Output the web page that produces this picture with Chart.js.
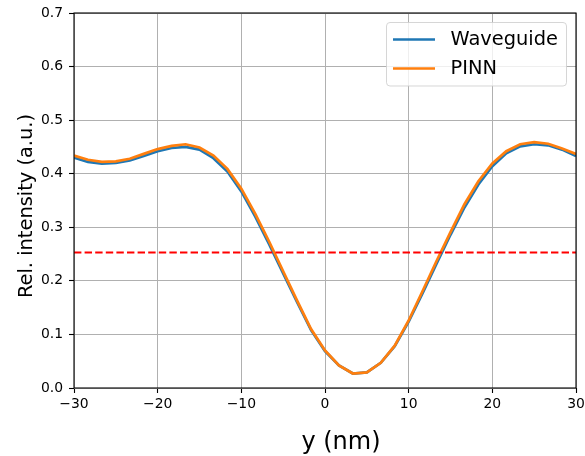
<!DOCTYPE html>
<html>
<head>
<meta charset="utf-8">
<script src="https://cdn.jsdelivr.net/npm/chart.js@4.4.1/dist/chart.umd.min.js"></script>
<style>
  html, body { margin: 0; padding: 0; background: #ffffff; }
  #wrap { width: 585px; height: 456px; }
</style>
</head>
<body>
<div id="wrap"><canvas id="c" width="585" height="456"></canvas></div>
<script>
// ---- data ----
const yPositions = [
  -30, -28.333, -26.667, -25, -23.333, -21.667, -20, -18.333, -16.667, -15,
  -13.333, -11.667, -10, -8.333, -6.667, -5, -3.333, -1.667, 0, 1.667,
  3.333, 5, 6.667, 8.333, 10, 11.667, 13.333, 15, 16.667, 18.333,
  20, 21.667, 23.333, 25, 26.667, 28.333, 30
];
const waveguide = [
  0.430, 0.422, 0.419, 0.420, 0.425, 0.433, 0.442, 0.448, 0.450, 0.445,
  0.429, 0.404, 0.367, 0.320, 0.268, 0.214, 0.160, 0.108, 0.069, 0.042,
  0.027, 0.029, 0.047, 0.078, 0.124, 0.177, 0.232, 0.286, 0.337, 0.380,
  0.414, 0.438, 0.451, 0.455, 0.453, 0.445, 0.433
];
const pinn = [
  0.434, 0.426, 0.422, 0.423, 0.428, 0.437, 0.446, 0.452, 0.455, 0.449,
  0.434, 0.409, 0.372, 0.325, 0.273, 0.218, 0.163, 0.110, 0.070, 0.042,
  0.027, 0.029, 0.047, 0.079, 0.126, 0.181, 0.237, 0.291, 0.343, 0.386,
  0.419, 0.442, 0.455, 0.459, 0.456, 0.447, 0.437
];
const thresholdLevel = 0.253;
const thresholdSpan = [-30, 30];

const seriesLabels = ['Waveguide', 'PINN'];
const xTickValues = [-30, -20, -10, 0, 10, 20, 30];
const xTickLabels = ['\u221230', '\u221220', '\u221210', '0', '10', '20', '30'];
const yTickLabels = ['0.0', '0.1', '0.2', '0.3', '0.4', '0.5', '0.6', '0.7'];
const xAxisTitle = 'y (nm)';
const yAxisTitle = 'Rel. intensity (a.u.)';

// ---- build chart ----
const FONT = "'DejaVu Sans', 'Liberation Sans', sans-serif";
const toPts = (xs, ys) => xs.map((x, i) => ({ x: x, y: ys[i] }));

const framePlugin = {
  id: 'frameAndLegend',
  afterDraw(chart) {
    const ctx = chart.ctx;
    const a = chart.chartArea;
    ctx.save();
    // spines
    ctx.strokeStyle = '#000000';
    ctx.lineWidth = 1.1;
    ctx.strokeRect(a.left, a.top, a.right - a.left, a.bottom - a.top);

    // axis titles
    ctx.fillStyle = '#000000';
    ctx.font = '24px ' + FONT;
    ctx.textAlign = 'center';
    ctx.textBaseline = 'alphabetic';
    ctx.fillText(xAxisTitle, 341, 448.5);

    ctx.save();
    ctx.translate(31.5, 206);
    ctx.rotate(-Math.PI / 2);
    ctx.font = '19.4px ' + FONT;
    ctx.textAlign = 'center';
    ctx.textBaseline = 'alphabetic';
    ctx.fillText(yAxisTitle, 0, 0);
    ctx.restore();

    // legend
    const items = chart.data.datasets.filter(d => d.inLegend);
    const bx = 386.5, by = 22.5, bw = 180, bh = 63.5, r = 3.5;
    ctx.beginPath();
    ctx.moveTo(bx + r, by);
    ctx.lineTo(bx + bw - r, by);
    ctx.arcTo(bx + bw, by, bx + bw, by + r, r);
    ctx.lineTo(bx + bw, by + bh - r);
    ctx.arcTo(bx + bw, by + bh, bx + bw - r, by + bh, r);
    ctx.lineTo(bx + r, by + bh);
    ctx.arcTo(bx, by + bh, bx, by + bh - r, r);
    ctx.lineTo(bx, by + r);
    ctx.arcTo(bx, by, bx + r, by, r);
    ctx.closePath();
    ctx.fillStyle = 'rgba(255,255,255,0.8)';
    ctx.fill();
    ctx.strokeStyle = 'rgba(204,204,204,0.8)';
    ctx.lineWidth = 1;
    ctx.stroke();

    ctx.font = '19.4px ' + FONT;
    ctx.textAlign = 'left';
    ctx.textBaseline = 'middle';
    items.forEach((d, i) => {
      const yy = 39.5 + i * 29;
      ctx.strokeStyle = d.borderColor;
      ctx.lineWidth = 2.7;
      ctx.beginPath();
      ctx.moveTo(393, yy);
      ctx.lineTo(435, yy);
      ctx.stroke();
      ctx.fillStyle = '#000000';
      ctx.fillText(d.label, 450.5, yy + 0.5);
    });
    ctx.restore();
  }
};

new Chart(document.getElementById('c'), {
  type: 'scatter',
  data: {
    datasets: [
      {
        label: seriesLabels[0],
        inLegend: true,
        data: toPts(yPositions, waveguide),
        showLine: true,
        borderColor: '#1f77b4',
        backgroundColor: '#1f77b4',
        borderWidth: 2.7,
        pointRadius: 0,
        tension: 0,
        order: 2
      },
      {
        label: seriesLabels[1],
        inLegend: true,
        data: toPts(yPositions, pinn),
        showLine: true,
        borderColor: '#ff7f0e',
        backgroundColor: '#ff7f0e',
        borderWidth: 2.7,
        pointRadius: 0,
        tension: 0,
        order: 1
      },
      {
        label: 'threshold',
        inLegend: false,
        data: thresholdSpan.map(x => ({ x: x, y: thresholdLevel })),
        showLine: true,
        borderColor: '#ff0000',
        backgroundColor: '#ff0000',
        borderWidth: 2,
        borderDash: [7.4, 3.2],
        pointRadius: 0,
        order: 0
      }
    ]
  },
  options: {
    responsive: false,
    animation: false,
    devicePixelRatio: 1,
    layout: { padding: { top: 13, right: 9, left: 0, bottom: 0 } },
    plugins: {
      legend: { display: false },
      tooltip: { enabled: false },
      title: { display: false }
    },
    scales: {
      x: {
        type: 'linear',
        min: -30,
        max: 30,
        afterFit(scale) {
          scale.height = 68;
          scale.paddingLeft = 0;
          scale.paddingRight = 0;
        },
        afterBuildTicks(scale) { scale.ticks = xTickValues.map(v => ({ value: v })); },
        ticks: {
          autoSkip: false,
          maxRotation: 0,
          padding: 3,
          color: '#000000',
          font: { family: FONT, size: 13.9 },
          callback: (v) => {
            const k = xTickValues.indexOf(v);
            return k >= 0 ? xTickLabels[k] : '';
          }
        },
        grid: {
          color: '#b0b0b0',
          lineWidth: 1,
          drawTicks: true,
          tickLength: 5,
          tickColor: '#000000',
          tickWidth: 1.1
        },
        border: { display: false }
      },
      y: {
        type: 'linear',
        min: 0,
        max: 0.7,
        afterFit(scale) {
          scale.width = 74;
          scale.paddingTop = 0;
          scale.paddingBottom = 0;
        },
        afterBuildTicks(scale) { scale.ticks = yTickLabels.map((t, i) => ({ value: i / 10 })); },
        ticks: {
          autoSkip: false,
          padding: 6,
          color: '#000000',
          font: { family: FONT, size: 13.9 },
          callback: (v, i) => yTickLabels[i]
        },
        grid: {
          color: '#b0b0b0',
          lineWidth: 1,
          drawTicks: true,
          tickLength: 5,
          tickColor: '#000000',
          tickWidth: 1.1
        },
        border: { display: false }
      }
    }
  },
  plugins: [framePlugin]
});
</script>
</body>
</html>
